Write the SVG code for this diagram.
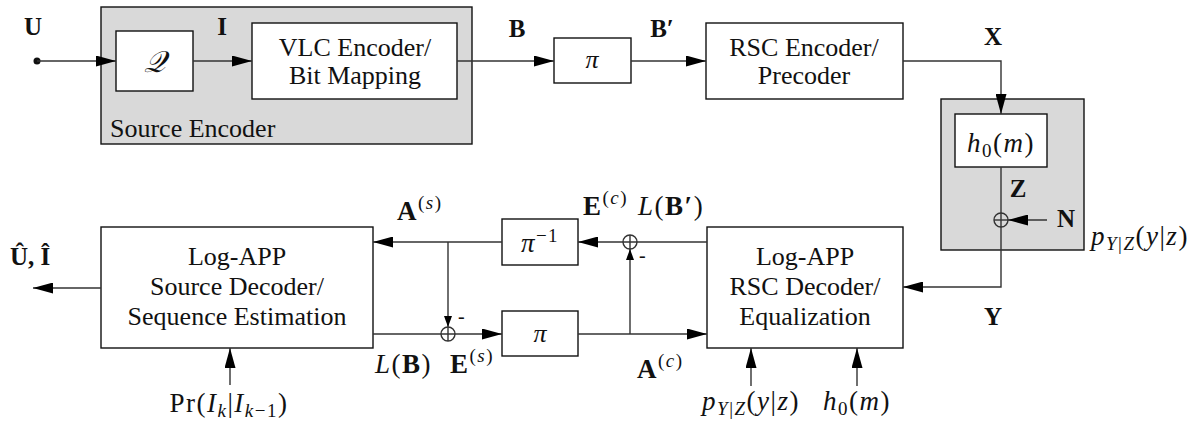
<svg xmlns="http://www.w3.org/2000/svg" width="1204" height="424" viewBox="0 0 1204 424">
<style>
.bx{fill:#fff;stroke:#111;stroke-width:1.4}
.gr{fill:#d9d9d9;stroke:#111;stroke-width:1.4}
.ln{fill:none;stroke:#333;stroke-width:1.4}
.ar{marker-end:url(#ah)}
.as{marker-end:url(#as)}
text{font-family:"Liberation Serif","Times New Roman",serif;fill:#111}
.t{font-size:26px;text-anchor:middle}
.b{font-size:25px;font-weight:bold}
.m{font-size:27px;letter-spacing:1.5px}
.i{font-style:italic}
.s{font-size:19px}
</style>
<defs>
<marker id="ah" markerUnits="userSpaceOnUse" markerWidth="20" markerHeight="11" refX="20" refY="5.5" orient="auto"><path d="M0,0 L20,5.5 L0,11 z" fill="#000"/></marker>
<marker id="as" markerUnits="userSpaceOnUse" markerWidth="11" markerHeight="8" refX="11" refY="4" orient="auto"><path d="M0,0 L11,4 L0,8 z" fill="#000"/></marker>
</defs>

<g id="source-encoder">
<rect class="gr" x="101" y="7" width="371" height="137"/>
<text x="110" y="137" style="font-size:26px">Source Encoder</text>
</g>
<g id="quantizer">
<rect class="bx" x="116" y="31" width="77" height="60"/>
<text class="t i" x="155" y="72" style="font-size:30px">𝒬</text>
</g>
<g id="vlc-encoder">
<rect class="bx" x="252" y="23" width="205" height="76"/>
<text class="t" x="355" y="56">VLC Encoder/</text>
<text class="t" x="355" y="84">Bit Mapping</text>
</g>
<g id="interleaver-tx">
<rect class="bx" x="554" y="38" width="77" height="45"/>
<text class="t i" x="592" y="68">π</text>
</g>
<g id="rsc-encoder">
<rect class="bx" x="706" y="23" width="197" height="76"/>
<text class="t" x="804" y="56">RSC Encoder/</text>
<text class="t" x="804" y="84">Precoder</text>
</g>
<g id="channel">
<rect class="gr" x="941" y="99" width="143" height="151"/>
<rect class="bx" x="955" y="114" width="92" height="53"/>
<text class="m" x="1001" y="152" text-anchor="middle"><tspan class="i">h</tspan><tspan class="s" dy="5">0</tspan><tspan dy="-5">(</tspan><tspan class="i">m</tspan>)</text>
</g>
<g id="source-decoder">
<rect class="bx" x="101" y="227" width="272" height="121"/>
<text class="t" x="237" y="265">Log-APP</text>
<text class="t" x="237" y="295">Source Decoder/</text>
<text class="t" x="237" y="325">Sequence Estimation</text>
</g>
<g id="deinterleaver">
<rect class="bx" x="502" y="219" width="76" height="46"/>
<text class="m" x="540" y="252" text-anchor="middle"><tspan class="i">π</tspan><tspan class="s" dy="-10">−1</tspan></text>
</g>
<g id="interleaver-rx">
<rect class="bx" x="502" y="311" width="76" height="45"/>
<text class="t i" x="540" y="342">π</text>
</g>
<g id="rsc-decoder">
<rect class="bx" x="707" y="227" width="196" height="121"/>
<text class="t" x="805" y="265">Log-APP</text>
<text class="t" x="805" y="295">RSC Decoder/</text>
<text class="t" x="805" y="325">Equalization</text>
</g>

<g id="connectors">
<circle cx="37" cy="61" r="3.5" fill="#111"/>
<path class="ln ar" d="M37,61 H116"/>
<path class="ln ar" d="M193,61 H252"/>
<path class="ln ar" d="M457,61 H554"/>
<path class="ln ar" d="M631,61 H706"/>
<path class="ln ar" d="M903,61 H1001 V114"/>
<path class="ln ar" d="M1001,167 V287 H903"/>
<circle class="ln" cx="1001" cy="220" r="7"/>
<path class="ln" d="M994,220 H1008"/>
<path class="ln ar" d="M1047,220 H1008"/>
<path class="ln" d="M707,242 H623"/>
<circle class="ln" cx="630" cy="242" r="7"/>
<path class="ln ar" d="M623,242 H578"/>
<path class="ln ar" d="M502,242 H373"/>
<path class="ln as" d="M448,242 V327"/>
<path class="ln" d="M373,334 H455"/>
<circle class="ln" cx="448" cy="334" r="7"/>
<path class="ln" d="M448,327 V341"/>
<path class="ln ar" d="M455,334 H502"/>
<path class="ln ar" d="M578,334 H707"/>
<path class="ln as" d="M630,334 V249"/>
<path class="ln" d="M630,235 V249"/>
<path class="ln ar" d="M101,288 H33"/>
<path class="ln ar" d="M230,385 V348"/>
<path class="ln ar" d="M751,386 V348"/>
<path class="ln ar" d="M857,386 V348"/>
</g>

<g id="labels">
<text class="b" x="33" y="35" text-anchor="middle">U</text>
<text class="b" x="222" y="35" text-anchor="middle">I</text>
<text class="b" x="517" y="37" text-anchor="middle">B</text>
<text class="b" x="662" y="37" text-anchor="middle">B′</text>
<text class="b" x="993" y="45" text-anchor="middle">X</text>
<text class="b" x="1018" y="197" text-anchor="middle">Z</text>
<text class="b" x="1066" y="227" text-anchor="middle">N</text>
<text class="b" x="993" y="325" text-anchor="middle">Y</text>
<text class="m" x="1091" y="245"><tspan class="i">p</tspan><tspan class="s i" dy="5">Y</tspan><tspan class="s">|</tspan><tspan class="s i">Z</tspan><tspan dy="-5">(</tspan><tspan class="i">y</tspan>|<tspan class="i">z</tspan>)</text>
<text class="b" x="10" y="265">Û, Î</text>
<text class="m" x="397" y="220"><tspan font-weight="bold">A</tspan><tspan class="s" dy="-11">(</tspan><tspan class="s i">s</tspan><tspan class="s">)</tspan></text>
<text class="m" x="583" y="215"><tspan font-weight="bold">E</tspan><tspan class="s" dy="-11">(</tspan><tspan class="s i">c</tspan><tspan class="s">)</tspan></text>
<text class="m" x="638" y="215"><tspan class="i">L</tspan>(<tspan font-weight="bold">B′</tspan>)</text>
<text class="m" x="375" y="373"><tspan class="i">L</tspan>(<tspan font-weight="bold">B</tspan>)</text>
<text class="m" x="450" y="373"><tspan font-weight="bold">E</tspan><tspan class="s" dy="-11">(</tspan><tspan class="s i">s</tspan><tspan class="s">)</tspan></text>
<text class="m" x="637" y="378"><tspan font-weight="bold">A</tspan><tspan class="s" dy="-11">(</tspan><tspan class="s i">c</tspan><tspan class="s">)</tspan></text>
<text x="458" y="323" style="font-size:20px">-</text>
<text x="639" y="262" style="font-size:20px">-</text>
<text class="m" x="229" y="412" text-anchor="middle">Pr(<tspan class="i">I</tspan><tspan class="s i" dy="5">k</tspan><tspan dy="-5">|</tspan><tspan class="i">I</tspan><tspan class="s" dy="5"><tspan class="i">k</tspan>−1</tspan><tspan dy="-5">)</tspan></text>
<text class="m" x="751" y="410" text-anchor="middle"><tspan class="i">p</tspan><tspan class="s i" dy="5">Y</tspan><tspan class="s">|</tspan><tspan class="s i">Z</tspan><tspan dy="-5">(</tspan><tspan class="i">y</tspan>|<tspan class="i">z</tspan>)</text>
<text class="m" x="857" y="410" text-anchor="middle"><tspan class="i">h</tspan><tspan class="s" dy="5">0</tspan><tspan dy="-5">(</tspan><tspan class="i">m</tspan>)</text>
</g>
</svg>
